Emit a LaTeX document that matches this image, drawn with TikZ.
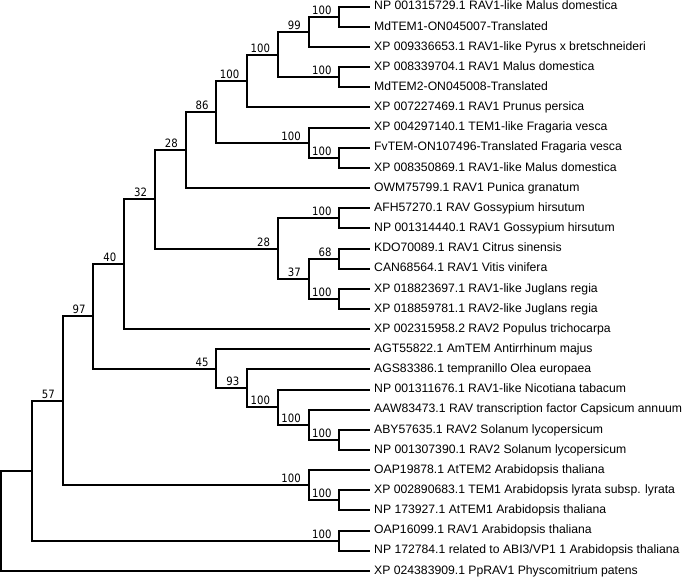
\documentclass[tikz,border=0pt]{standalone}
\usepackage{fontspec}
\setmainfont{Liberation Sans}
\newfontfamily\bootfont[FakeStretch=0.88]{DejaVu Sans}
\usetikzlibrary{calc}

\tikzset{
  branch/.style={line width=2pt},
  leaf/.style={anchor=west, inner sep=4pt, text height=8.8pt, text depth=2.4pt,
    font=\fontsize{12.2}{14}\selectfont},
  boot/.style={anchor=base east, inner sep=0pt, xshift=-7.5pt, yshift=2.5pt,
    font=\bootfont\fontsize{11.5}{13}\selectfont}
}

% clade #1 at level #2, halfway between #3 and #4, support #5
\newcommand\clade[5]{%
  \path ($(#3)!.5!(#4)$) coordinate (#1-mid);
  \coordinate (#1) at (#2,0 |- #1-mid);
  \ifx\relax#5\relax\else\node[boot] (#1-bs) at (#1) {#5};\fi
  \draw[branch] (#1) |- (#3);
  \draw[branch] (#1) |- (#4);
}

\begin{document}
\begin{tikzpicture}[x=30.75pt, y=-20.15pt]
\useasboundingbox ([shift={(-1pt,6.7pt)}]0,0) rectangle ([shift={(684pt,-572.3pt)}]0,0);

% leaves
\foreach \name [count=\i] in {
  NP 001315729.1 RAV1-like Malus domestica,
  MdTEM1-ON045007-Translated,
  XP 009336653.1 RAV1-like Pyrus x bretschneideri,
  XP 008339704.1 RAV1 Malus domestica,
  MdTEM2-ON045008-Translated,
  XP 007227469.1 RAV1 Prunus persica,
  XP 004297140.1 TEM1-like Fragaria vesca,
  FvTEM-ON107496-Translated Fragaria vesca,
  XP 008350869.1 RAV1-like Malus domestica,
  OWM75799.1 RAV1 Punica granatum,
  AFH57270.1 RAV Gossypium hirsutum,
  NP 001314440.1 RAV1 Gossypium hirsutum,
  KDO70089.1 RAV1 Citrus sinensis,
  CAN68564.1 RAV1 Vitis vinifera,
  XP 018823697.1 RAV1-like Juglans regia,
  XP 018859781.1 RAV2-like Juglans regia,
  XP 002315958.2 RAV2 Populus trichocarpa,
  AGT55822.1 AmTEM Antirrhinum majus,
  AGS83386.1 tempranillo Olea europaea,
  NP 001311676.1 RAV1-like Nicotiana tabacum,
  AAW83473.1 RAV transcription factor Capsicum annuum,
  ABY57635.1 RAV2 Solanum lycopersicum,
  NP 001307390.1 RAV2 Solanum lycopersicum,
  OAP19878.1 AtTEM2 Arabidopsis thaliana,
  XP 002890683.1 TEM1 Arabidopsis lyrata subsp. lyrata,
  NP 173927.1 AtTEM1 Arabidopsis thaliana,
  OAP16099.1 RAV1 Arabidopsis thaliana,
  NP 172784.1 related to ABI3/VP1 1 Arabidopsis thaliana,
  XP 024383909.1 PpRAV1 Physcomitrium patens}
  \node[leaf] (l\i) at (12,\i-1) {\name};

% Rosaceae and others
\clade{nf}{11}{l1}{l2}{100}
\clade{nd}{10}{nf}{l3}{99}
\clade{ne}{11}{l4}{l5}{100}
\clade{nc}{9}{nd}{ne}{100}
\clade{nb}{8}{nc}{l6}{100}
\clade{ng}{11}{l8}{l9}{100}
\clade{nfv}{10}{l7}{ng}{100}
\clade{na}{7}{nb}{nfv}{86}
\clade{n6}{6}{na}{l10}{28}
\clade{nh}{11}{l11}{l12}{100}
\clade{nj}{11}{l13}{l14}{68}
\clade{nk}{11}{l15}{l16}{100}
\clade{ni}{10}{nj}{nk}{37}
\clade{n12}{9}{nh}{ni}{28}
\clade{n5}{5}{n6}{n12}{32}
\clade{n4}{4}{n5}{l17}{40}

% Solanaceae etc.
\clade{n11}{11}{l22}{l23}{100}
\clade{n10}{10}{l21}{n11}{100}
\clade{n9}{9}{l20}{n10}{100}
\clade{n8}{8}{l19}{n9}{93}
\clade{n7}{7}{l18}{n8}{45}
\clade{n3}{3}{n4}{n7}{97}

% Arabidopsis
\clade{nat1b}{11}{l25}{l26}{100}
\clade{nat1}{10}{l24}{nat1b}{100}
\clade{n2}{2}{n3}{nat1}{57}
\clade{nat2}{11}{l27}{l28}{100}
\clade{n1}{1}{n2}{nat2}{}

% root
\clade{root}{0}{n1}{l29}{}
\end{tikzpicture}
\end{document}
